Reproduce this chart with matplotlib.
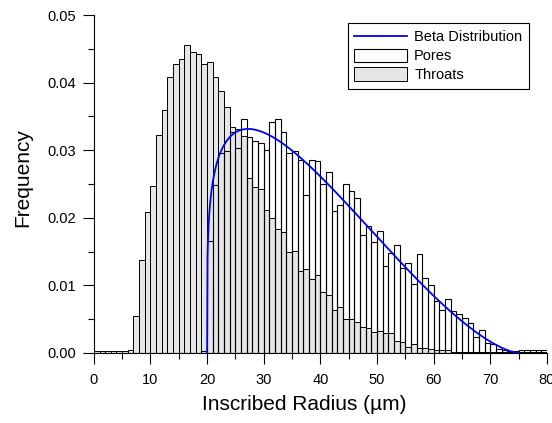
import numpy as np
import matplotlib.pyplot as plt
from matplotlib.ticker import MultipleLocator, FormatStrFormatter

plt.rcParams['font.family'] = ['Liberation Sans', 'DejaVu Sans']

# bin left edges (width 1 um), 0..79
bins = np.arange(0, 80)

# throat frequency per bin
throats = [0.0003, 0.0003, 0.0003, 0.0003, 0.0003, 0.0003, 0.0004, 0.0054, 0.0138, 0.0208,
           0.0247, 0.0323, 0.0359, 0.0409, 0.0428, 0.0435, 0.0455, 0.0446, 0.0442, 0.0428,
           0.0430, 0.0408, 0.0387, 0.0364, 0.0334, 0.0331, 0.0321, 0.0259, 0.0245, 0.0243,
           0.0212, 0.0199, 0.0183, 0.0179, 0.0150, 0.0151, 0.0122, 0.0124, 0.0109, 0.0115,
           0.0090, 0.0086, 0.0064, 0.0068, 0.0050, 0.0050, 0.0046, 0.0039, 0.0037, 0.0031,
           0.0032, 0.0029, 0.0029, 0.0018, 0.0017, 0.0009, 0.0013, 0.0008, 0.0007, 0.0006,
           0.0005, 0.0004, 0.0004, 0.0002, 0.0002, 0.0002, 0.0002, 0.0002, 0.0002, 0.0002,
           0.0002, 0.0002, 0.0002, 0.0002, 0.0002, 0.0002, 0.0002, 0.0002, 0.0002, 0.0002]

# pore frequency per bin
pores = [0, 0, 0, 0, 0, 0, 0, 0, 0, 0,
         0, 0, 0, 0, 0, 0, 0, 0, 0, 0.0003,
         0.0166, 0.0249, 0.0296, 0.0299, 0.0327, 0.0303, 0.0346, 0.0320, 0.0313, 0.0310,
         0.0301, 0.0342, 0.0346, 0.0327, 0.0296, 0.0299, 0.0286, 0.0234, 0.0286, 0.0284,
         0.0250, 0.0268, 0.0210, 0.0219, 0.0250, 0.0239, 0.0230, 0.0174, 0.0188, 0.0164,
         0.0181, 0.0129, 0.0148, 0.0160, 0.0126, 0.0133, 0.0102, 0.0146, 0.0111, 0.0100,
         0.0077, 0.0064, 0.0080, 0.0062, 0.0057, 0.0052, 0.0044, 0.0023, 0.0034, 0.0015,
         0.0013, 0.0006, 0.0004, 0.0003, 0.0003, 0.0004, 0.0004, 0.0004, 0.0004, 0.0004]

# fitted beta distribution for the pores
beta_a, beta_b = 1.23, 2.52
beta_lo, beta_hi = 20.0, 75.0


def beta_pdf(x, a, b, lo, hi):
    from math import gamma
    t = (x - lo) / (hi - lo)
    norm = gamma(a + b) / (gamma(a) * gamma(b))
    return norm * t ** (a - 1) * (1 - t) ** (b - 1) / (hi - lo)


xb = np.linspace(beta_lo, beta_hi, 800)
yb = beta_pdf(xb, beta_a, beta_b, beta_lo, beta_hi)

fig = plt.figure(figsize=(5.52, 4.23), dpi=100)
ax = fig.add_axes([0.170, 0.1655, 0.821, 0.799])

b_thr = ax.bar(bins, throats, width=1, align='edge', color='#e6e6e6',
               edgecolor='black', lw=0.7, zorder=2)
b_por = ax.bar(bins, pores, width=1, align='edge', facecolor='none',
               edgecolor='black', lw=0.8, zorder=3)
ln_beta, = ax.plot(xb, yb, color='#0000ff', lw=1.3, zorder=4)

ax.set_xlim(0, 80)
ax.set_ylim(0, 0.05)
ax.xaxis.set_major_locator(MultipleLocator(10))
ax.xaxis.set_minor_locator(MultipleLocator(5))
ax.yaxis.set_major_locator(MultipleLocator(0.01))
ax.yaxis.set_minor_locator(MultipleLocator(0.005))
ax.yaxis.set_major_formatter(FormatStrFormatter('%.2f'))

ax.spines['top'].set_visible(False)
ax.spines['right'].set_visible(False)
for s in ('left', 'bottom'):
    ax.spines[s].set_linewidth(0.8)

ax.tick_params(which='major', direction='out', length=8, width=0.8, labelsize=10.5)
ax.tick_params(which='minor', direction='out', length=4, width=0.8)
ax.tick_params(axis='x', which='major', pad=6.5)
ax.tick_params(axis='y', which='major', pad=4.5)

ax.set_xlabel('Inscribed Radius (µm)', fontsize=15)
ax.set_ylabel('Frequency', fontsize=15)
ax.xaxis.set_label_coords(0.465, -0.125)
ax.yaxis.set_label_coords(-0.137, 0.52)

leg = ax.legend([ln_beta, b_por, b_thr], ['Beta Distribution', 'Pores', 'Throats'],
                loc='upper right', bbox_to_anchor=(0.960, 0.976),
                borderaxespad=0, fontsize=10.5, handlelength=3.6,
                handleheight=1.05, labelspacing=0.28, handletextpad=0.5,
                borderpad=0.45, fancybox=False, framealpha=1, edgecolor='black')
leg.get_frame().set_linewidth(0.8)

plt.savefig('out.png', dpi=100)
